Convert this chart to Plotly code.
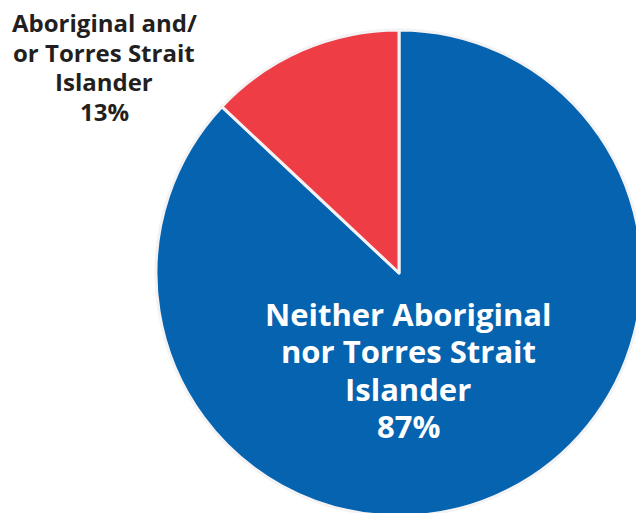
import plotly.graph_objects as go

# Share of people by Indigenous status
categories = ["Neither Aboriginal<br>nor Torres Strait<br>Islander",
              "Aboriginal and/<br>or Torres Strait<br>Islander"]
shares = [87, 13]
colors = ["#0563b0", "#ef3d45"]

W, H = 700, 600            # canvas larger than the view so the pie bleeds off the edges
CX, CY, R = 399, 273, 243  # pie centre and radius in pixels

fig = go.Figure(go.Pie(
    labels=categories,
    values=shares,
    sort=False,
    direction="clockwise",
    rotation=0,
    marker=dict(colors=colors, line=dict(color="#f3f3f5", width=3)),
    textinfo="none",
    hoverinfo="skip",
    showlegend=False,
    domain=dict(x=[(CX - R) / W, (CX + R) / W],
                y=[1 - (CY + R) / H, 1 - (CY - R) / H]),
))


def add_label(lines, x_px, y0_px, step_px, size, color):
    """Stack label lines one by one so the line spacing can be set exactly."""
    for i, line in enumerate(lines):
        fig.add_annotation(
            x=x_px / W, y=1 - (y0_px + i * step_px) / H,
            xref="paper", yref="paper",
            text=f"<b>{line}</b>", showarrow=False,
            xanchor="center", yanchor="middle",
            font=dict(family="Open Sans", size=size, color=color),
        )


add_label(categories[0].split("<br>") + [f"{shares[0]}%"],
          408, 314, 37.3, 31, "white")
add_label(categories[1].split("<br>") + [f"{shares[1]}%"],
          104, 22.5, 29.7, 24, "#231f20")

fig.update_layout(
    width=W, height=H,
    margin=dict(l=0, r=0, t=0, b=0),
    paper_bgcolor="white", plot_bgcolor="white",
)

fig.write_html(
    "out.html",
    post_script="document.documentElement.style.overflow='hidden';"
                "document.body.style.overflow='hidden';"
                "document.body.style.margin='0';",
)
